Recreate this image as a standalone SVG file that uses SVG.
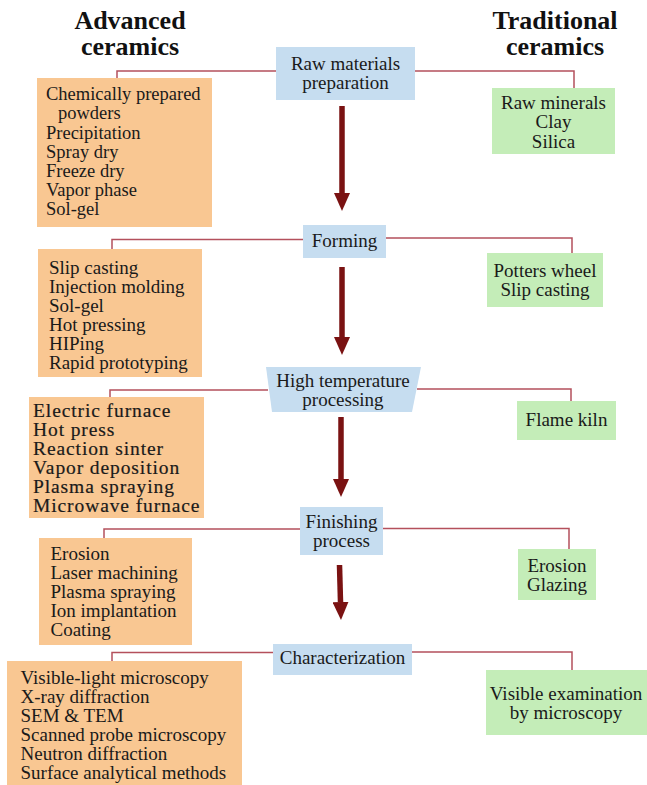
<svg xmlns="http://www.w3.org/2000/svg" width="647" height="785" viewBox="0 0 647 785">
<defs>
<style>
.t{font-family:"Liberation Serif","Times New Roman",serif;font-size:19px;fill:#1a1a1a}
.h{font-family:"Liberation Serif","Times New Roman",serif;font-size:26px;font-weight:bold;fill:#111;text-anchor:middle}
.c{text-anchor:middle}
.adv{fill:#F9C792}
.trad{fill:#C4EDB8}
.step{fill:#C6DDF0}
.con{fill:none;stroke:#B4505C;stroke-width:1.5}
.arr{stroke:#7A1212;stroke-width:5.5}
.b3{font-size:19.5px;letter-spacing:0.9px;stroke:#1a1a1a;stroke-width:0.2}
</style>
<marker id="ah" markerUnits="userSpaceOnUse" markerWidth="18" markerHeight="16" refX="0" refY="8" orient="auto" viewBox="0 0 18 16">
<path d="M0,0 L18,8 L0,16 z" fill="#7A1212"/>
</marker>
</defs>
<rect width="647" height="785" fill="#ffffff"/>

<g id="headings">
<text class="h" x="130" y="28.5">Advanced</text>
<text class="h" x="130" y="55">ceramics</text>
<text class="h" x="555" y="28.5">Traditional</text>
<text class="h" x="555" y="55">ceramics</text>
</g>

<g id="connectors">
<polyline class="con" points="117,78 117,71 276,71"/>
<polyline class="con" points="415,71 574,71 574,88"/>
<polyline class="con" points="112,249 112,239.5 303,239.5"/>
<polyline class="con" points="386,238 572,238 572,253"/>
<polyline class="con" points="110,397 110,390 268,390"/>
<polyline class="con" points="417,389 571,389 571,401"/>
<polyline class="con" points="104,538 104,529 300,529"/>
<polyline class="con" points="383,528.5 569,528.5 569,549"/>
<polyline class="con" points="112,661 112,652.5 273,652.5"/>
<polyline class="con" points="412,652 572,652 572,670"/>
<line class="arr" x1="342" y1="106" x2="342" y2="193" marker-end="url(#ah)"/>
<line class="arr" x1="342" y1="267" x2="342" y2="337" marker-end="url(#ah)"/>
<line class="arr" x1="341" y1="417" x2="341" y2="479" marker-end="url(#ah)"/>
<line class="arr" x1="339.5" y1="565" x2="340.5" y2="602" marker-end="url(#ah)"/>
</g>

<g id="raw-materials">
<rect class="step" x="276" y="47" width="139" height="53"/>
<text class="t c" x="345.5" y="70">Raw materials</text>
<text class="t c" x="345.5" y="89">preparation</text>
</g>
<g id="forming">
<rect class="step" x="303" y="225" width="83" height="33"/>
<text class="t c" x="344.5" y="247">Forming</text>
</g>
<g id="high-temp">
<polygon class="step" points="266,367 421,367 412,412 272,412"/>
<text class="t c" x="343" y="386.5">High temperature</text>
<text class="t c" x="343" y="405.5">processing</text>
</g>
<g id="finishing">
<rect class="step" x="300" y="507" width="83" height="48"/>
<text class="t c" x="341.5" y="528">Finishing</text>
<text class="t c" x="341.5" y="547">process</text>
</g>
<g id="characterization">
<rect class="step" x="273" y="644" width="139" height="31"/>
<text class="t c" x="342.5" y="664">Characterization</text>
</g>

<g id="adv-raw">
<rect class="adv" x="37" y="78" width="175" height="149"/>
<text class="t" x="46" y="100" style="font-size:18.5px">Chemically prepared</text>
<text class="t" x="58" y="119" style="font-size:18.5px">powders</text>
<text class="t" x="46" y="138.5" style="font-size:18.5px">Precipitation</text>
<text class="t" x="46" y="157.5" style="font-size:18.5px">Spray dry</text>
<text class="t" x="46" y="177" style="font-size:18.5px">Freeze dry</text>
<text class="t" x="46" y="196" style="font-size:18.5px">Vapor phase</text>
<text class="t" x="46" y="215" style="font-size:18.5px">Sol-gel</text>
</g>
<g id="adv-forming">
<rect class="adv" x="38" y="249" width="164" height="128"/>
<text class="t" x="49" y="273.5">Slip casting</text>
<text class="t" x="49" y="292.5">Injection molding</text>
<text class="t" x="49" y="312">Sol-gel</text>
<text class="t" x="49" y="331">Hot pressing</text>
<text class="t" x="49" y="350">HIPing</text>
<text class="t" x="49" y="369">Rapid prototyping</text>
</g>
<g id="adv-hightemp">
<rect class="adv" x="29" y="397" width="175" height="121"/>
<text class="t b3" x="33" y="417">Electric furnace</text>
<text class="t b3" x="33" y="436">Hot press</text>
<text class="t b3" x="33" y="455">Reaction sinter</text>
<text class="t b3" x="33" y="474">Vapor deposition</text>
<text class="t b3" x="33" y="493">Plasma spraying</text>
<text class="t b3" x="33" y="512">Microwave furnace</text>
</g>
<g id="adv-finishing">
<rect class="adv" x="39" y="538" width="153" height="107"/>
<text class="t" x="50.5" y="559.5">Erosion</text>
<text class="t" x="50.5" y="578.5">Laser machining</text>
<text class="t" x="50.5" y="597.5">Plasma spraying</text>
<text class="t" x="50.5" y="616.5">Ion implantation</text>
<text class="t" x="50.5" y="635.5">Coating</text>
</g>
<g id="adv-char">
<rect class="adv" x="7" y="661" width="235" height="124"/>
<text class="t" x="20.5" y="683.5">Visible-light microscopy</text>
<text class="t" x="20.5" y="702.5">X-ray diffraction</text>
<text class="t" x="20.5" y="721.5">SEM &amp; TEM</text>
<text class="t" x="20.5" y="740.5">Scanned probe microscopy</text>
<text class="t" x="20.5" y="759.5">Neutron diffraction</text>
<text class="t" x="20.5" y="778.5">Surface analytical methods</text>
</g>

<g id="trad-raw">
<rect class="trad" x="492" y="88" width="123" height="66"/>
<text class="t c" x="553.5" y="108.5">Raw minerals</text>
<text class="t c" x="553.5" y="128">Clay</text>
<text class="t c" x="553.5" y="147.5">Silica</text>
</g>
<g id="trad-forming">
<rect class="trad" x="487" y="253" width="116" height="54"/>
<text class="t c" x="545" y="277">Potters wheel</text>
<text class="t c" x="545" y="296">Slip casting</text>
</g>
<g id="trad-hightemp">
<rect class="trad" x="517" y="401" width="99" height="39"/>
<text class="t c" x="566.5" y="426">Flame kiln</text>
</g>
<g id="trad-finishing">
<rect class="trad" x="518" y="549" width="78" height="51"/>
<text class="t c" x="557" y="571.5">Erosion</text>
<text class="t c" x="557" y="590.5">Glazing</text>
</g>
<g id="trad-char">
<rect class="trad" x="486" y="670" width="161" height="65"/>
<text class="t c" x="566" y="699.5">Visible examination</text>
<text class="t c" x="566" y="718.5">by microscopy</text>
</g>
</svg>
